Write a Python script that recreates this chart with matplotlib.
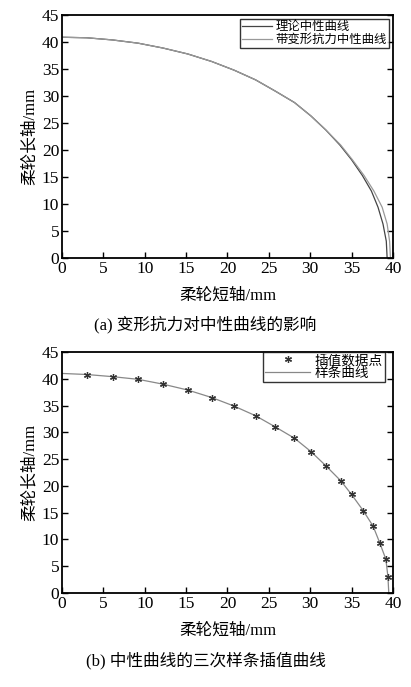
import matplotlib.pyplot as plt

plt.rcParams['font.family'] = ['Liberation Serif', 'Noto Sans CJK SC']
plt.rcParams['axes.unicode_minus'] = False

# 曲线数据
y_pts = [40.9, 40.8, 40.4, 39.8, 38.9, 37.8, 36.4, 34.8, 33.0, 30.9, 28.8,
         26.3, 23.7, 20.9, 18.2, 15.3, 12.4, 9.4, 6.3, 3.1, 0]
x_theory = [0, 3.0, 6.1, 9.2, 12.2, 15.2, 18.1, 20.8, 23.4, 25.8, 28.1,
            30.1, 31.9, 33.6, 35.0, 36.3, 37.4, 38.2, 38.8, 39.2, 39.3]
x_deform = [0, 3.0, 6.1, 9.2, 12.2, 15.2, 18.1, 20.8, 23.4, 25.8, 28.1,
            30.1, 31.9, 33.7, 35.1, 36.5, 37.7, 38.7, 39.3, 39.6, 39.7]

# 插值数据点
x_nodes = [3.0, 6.1, 9.2, 12.2, 15.2, 18.1, 20.8, 23.4, 25.8, 28.1,
           30.1, 31.9, 33.7, 35.0, 36.4, 37.6, 38.4, 39.15, 39.4]
y_nodes = [40.8, 40.4, 39.9, 39.0, 37.9, 36.5, 34.9, 33.1, 31.0, 28.9,
           26.4, 23.75, 20.95, 18.4, 15.4, 12.5, 9.4, 6.3, 3.0]
x_spline = [0] + x_nodes + [39.5]
y_spline = [41.0] + y_nodes + [0]

xticks = list(range(0, 41, 5))
yticks = list(range(0, 46, 5))

fig = plt.figure(figsize=(4.11, 6.87), dpi=100)
ax1 = fig.add_axes([0.151, 0.6245, 0.805, 0.3535])
ax2 = fig.add_axes([0.151, 0.1368, 0.805, 0.3508])


def style(ax):
    ax.set_xlim(0, 40)
    ax.set_ylim(0, 45)
    ax.set_xticks(xticks)
    ax.set_yticks(yticks)
    ax.tick_params(direction='in', length=4, width=1, right=True, top=False,
                   labelsize=12.5, pad=2)
    for s in ax.spines.values():
        s.set_linewidth(1.3)
    ax.set_xlabel('柔轮短轴/mm', fontsize=12, labelpad=8)
    ax.set_ylabel('柔轮长轴/mm', fontsize=12, labelpad=3)


ax1.plot(x_theory, y_pts, color='#444444', lw=0.9, label='理论中性曲线')
ax1.plot(x_deform, y_pts, color='#999999', lw=0.9, label='带变形抗力中性曲线')
style(ax1)
leg = ax1.legend(loc='upper right', fontsize=8.9, frameon=True, fancybox=False,
                 borderpad=0.2, handlelength=2.4, handletextpad=0.3,
                 labelspacing=0.05, borderaxespad=0.3)
leg.get_frame().set_edgecolor('black')
leg.get_frame().set_linewidth(1.0)

ax2.plot(x_spline, y_spline, color='#888888', lw=0.9, zorder=1)
ax2.plot(x_nodes, y_nodes, linestyle='none', marker=(6, 2, 0), markersize=5,
         markeredgewidth=0.9, color='#333333', label='插值数据点', zorder=2)
ax2.plot([], [], color='#888888', lw=0.9, label='样条曲线')
style(ax2)
handles, labels = ax2.get_legend_handles_labels()
leg2 = ax2.legend(handles, labels, loc='upper right', fontsize=9.8, frameon=True,
                  fancybox=False, borderpad=0.15, handlelength=3.3, handletextpad=0.3,
                  labelspacing=0.0, borderaxespad=0.0,
                  bbox_to_anchor=(0.975, 1.0))
leg2.get_frame().set_edgecolor('black')
leg2.get_frame().set_linewidth(1.0)

fig.text(0.5, 0.527, '(a) 变形抗力对中性曲线的影响', ha='center', va='center',
         fontsize=12)
fig.text(0.5, 0.039, '(b) 中性曲线的三次样条插值曲线', ha='center', va='center',
         fontsize=12)

fig.savefig('out.png', dpi=100)
